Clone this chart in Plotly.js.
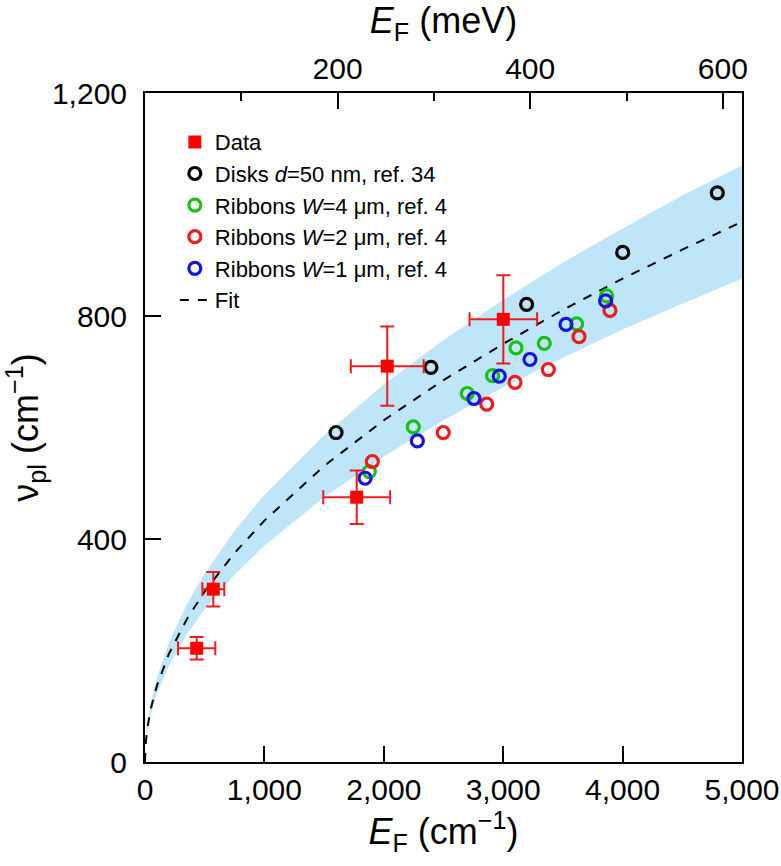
<!DOCTYPE html>
<html>
<head>
<meta charset="utf-8">
<script src="https://cdn.plot.ly/plotly-3.0.1.min.js"></script>
<style>
  html, body { margin: 0; padding: 0; background: #fff; }
  #plot { width: 781px; height: 866px; }
</style>
</head>
<body>
<div id="plot"></div>
<script>
// Measured data (red squares with error bars)
let dataE = [433, 572, 1773, 2029, 3001];
let dataNu = [204, 310, 475, 710, 794];
let dataEerr = [156, 92, 280, 305, 283];
let dataNuErr = [20, 31, 48, 71, 79];

// Disks d=50 nm, ref. 34
let diskE = [1600, 2395, 3196, 4001, 4793];
let diskNu = [591, 708, 821, 914, 1021];

// Ribbons W=4, 2, 1 um, ref. 4
let w4E = [1879, 2247, 2699, 2911, 3107, 3344, 3615, 3866];
let w4Nu = [521, 601, 661, 693, 743, 751, 786, 836];
let w2E = [1904, 2498, 2862, 3099, 3378, 3635, 3894];
let w2Nu = [539, 591, 642, 681, 704, 763, 810];
let w1E = [1843, 2281, 2755, 2967, 3224, 3526, 3858];
let w1Nu = [509, 576, 652, 692, 722, 785, 827];

// Fit curve and shaded band
let fitE = [0, 5, 20, 50, 100, 200, 350, 500, 750, 1000, 1500, 2000, 2500, 3000, 3500, 4000, 4500, 5000];
let fitNu = [0, 31, 61, 97, 137, 194, 256, 306, 375, 433, 531, 613, 685, 750, 811, 867, 919, 969];
let bandUp = [0, 34, 68, 107, 151, 214, 283, 338, 415, 479, 586, 677, 757, 829, 896, 957, 1016, 1070];
let bandLo = [0, 27, 55, 87, 123, 173, 229, 274, 336, 388, 475, 548, 613, 672, 725, 776, 822, 867];

// top axis in meV
let meVmax = 5000 / 8.0655;

let font = "Liberation Sans, Arial, Helvetica, sans-serif";

let traces = [
  { x: fitE, y: bandLo, mode: "lines", line: { width: 0, color: "rgba(0,0,0,0)" },
    showlegend: false, hoverinfo: "skip" },
  { x: fitE, y: bandUp, mode: "lines", fill: "tonexty", fillcolor: "#bee6f8",
    line: { width: 0, color: "rgba(0,0,0,0)" }, showlegend: false, hoverinfo: "skip" },
  { x: fitE, y: fitNu, mode: "lines", name: "Fit", legendrank: 6,
    line: { color: "black", width: 2, dash: "dash" } },
  { x: diskE, y: diskNu, mode: "markers", name: "Disks <i>d</i>=50 nm, ref. 34", legendrank: 2,
    marker: { symbol: "circle-open", size: 12, color: "black", line: { width: 3.2 } } },
  { x: w4E, y: w4Nu, mode: "markers", name: "Ribbons <i>W</i>=4 μm, ref. 4", legendrank: 3,
    marker: { symbol: "circle-open", size: 12, color: "#19c019", line: { width: 3.2 } } },
  { x: w2E, y: w2Nu, mode: "markers", name: "Ribbons <i>W</i>=2 μm, ref. 4", legendrank: 4,
    marker: { symbol: "circle-open", size: 12, color: "#ee1c1c", line: { width: 3.2 } } },
  { x: w1E, y: w1Nu, mode: "markers", name: "Ribbons <i>W</i>=1 μm, ref. 4", legendrank: 5,
    marker: { symbol: "circle-open", size: 12, color: "#1414e0", line: { width: 3.2 } } },
  { x: dataE, y: dataNu, mode: "markers", name: "Data", legendrank: 1,
    marker: { symbol: "square", size: 13, color: "#ff0000" },
    error_x: { type: "data", array: dataEerr, color: "#ee1c1c", thickness: 2, width: 7 },
    error_y: { type: "data", array: dataNuErr, color: "#ee1c1c", thickness: 2, width: 7 } },
  // dummy trace so the meV axis is drawn
  { x: [0, meVmax], y: [null, null], xaxis: "x2", mode: "markers", showlegend: false, hoverinfo: "skip" }
];

let layout = {
  width: 781,
  height: 866,
  margin: { l: 145, r: 39, t: 93, b: 104 },
  paper_bgcolor: "white",
  plot_bgcolor: "white",
  font: { family: font, size: 30, color: "black" },
  showlegend: true,
  legend: {
    x: 0.05, y: 0.958, xanchor: "left", yanchor: "top", traceorder: "normal",
    font: { size: 22 }, bgcolor: "rgba(0,0,0,0)", tracegroupgap: 0
  },
  xaxis: {
    range: [0, 5000], tickvals: [0, 1000, 2000, 3000, 4000, 5000], tickformat: ",",
    ticks: "inside", ticklen: 16, tickwidth: 2, tickcolor: "black",
    showline: true, linecolor: "black", linewidth: 2, mirror: true,
    showgrid: false, zeroline: false,
    title: { text: "<i>E</i><sub>F</sub> (cm<sup>−1</sup>)", standoff: 14 }
  },
  xaxis2: {
    overlaying: "x", side: "top", anchor: "y",
    range: [0, meVmax], tickvals: [200, 400, 600],
    ticks: "inside", ticklen: 16, tickwidth: 2, tickcolor: "black",
    minor: { tickvals: [100, 300, 500], ticks: "inside", ticklen: 8, tickwidth: 2, tickcolor: "black" },
    showline: true, linecolor: "black", linewidth: 2,
    showgrid: false, zeroline: false,
    title: { text: "<i>E</i><sub>F</sub> (meV)", standoff: 14 }
  },
  yaxis: {
    range: [0, 1200], tickvals: [0, 400, 800, 1200], tickformat: ",",
    ticks: "inside", ticklen: 16, tickwidth: 2, tickcolor: "black",
    showline: true, linecolor: "black", linewidth: 2, mirror: true,
    showgrid: false, zeroline: false, ticklabelstandoff: 10,
    title: { text: "ν<sub>pl</sub> (cm<sup>−1</sup>)", standoff: 20 }
  }
};

Plotly.newPlot("plot", traces, layout, { displayModeBar: false, staticPlot: true });
</script>
</body>
</html>
